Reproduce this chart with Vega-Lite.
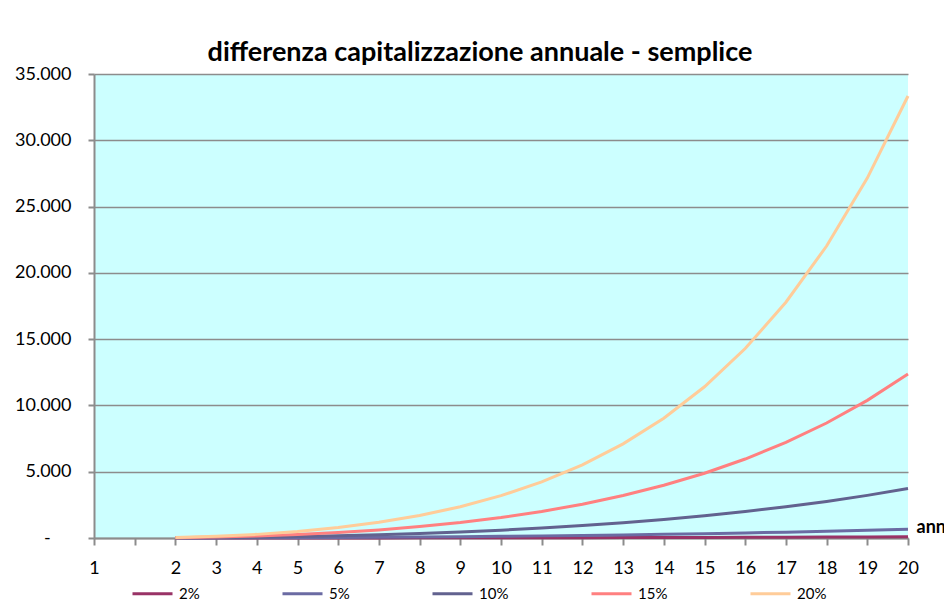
{
  "$schema": "https://vega.github.io/schema/vega-lite/v6.json",
  "width": 814,
  "height": 464,
  "autosize": {"type": "none"},
  "padding": {"left": 94, "top": 74, "right": 36, "bottom": 72},
  "background": "white",
  "title": {
    "text": "differenza capitalizzazione annuale - semplice",
    "font": "Lato",
    "fontSize": 27,
    "fontWeight": "bold",
    "color": "black",
    "anchor": "middle",
    "dx": -21,
    "offset": -2
  },
  "data": {
    "values": [
      {"anno": "2", "serie": "2%", "valore": 0.4}, {"anno": "3", "serie": "2%", "valore": 1.2}, {"anno": "4", "serie": "2%", "valore": 2.4}, {"anno": "5", "serie": "2%", "valore": 4.1}, {"anno": "6", "serie": "2%", "valore": 6.2}, {"anno": "7", "serie": "2%", "valore": 8.7}, {"anno": "8", "serie": "2%", "valore": 11.7}, {"anno": "9", "serie": "2%", "valore": 15.1}, {"anno": "10", "serie": "2%", "valore": 19.0}, {"anno": "11", "serie": "2%", "valore": 23.4}, {"anno": "12", "serie": "2%", "valore": 28.2}, {"anno": "13", "serie": "2%", "valore": 33.6}, {"anno": "14", "serie": "2%", "valore": 39.5}, {"anno": "15", "serie": "2%", "valore": 45.9}, {"anno": "16", "serie": "2%", "valore": 52.8}, {"anno": "17", "serie": "2%", "valore": 60.2}, {"anno": "18", "serie": "2%", "valore": 68.2}, {"anno": "19", "serie": "2%", "valore": 76.8}, {"anno": "20", "serie": "2%", "valore": 85.9},
      {"anno": "2", "serie": "5%", "valore": 2.5}, {"anno": "3", "serie": "5%", "valore": 7.6}, {"anno": "4", "serie": "5%", "valore": 15.5}, {"anno": "5", "serie": "5%", "valore": 26.3}, {"anno": "6", "serie": "5%", "valore": 40.1}, {"anno": "7", "serie": "5%", "valore": 57.1}, {"anno": "8", "serie": "5%", "valore": 77.5}, {"anno": "9", "serie": "5%", "valore": 101.3}, {"anno": "10", "serie": "5%", "valore": 128.9}, {"anno": "11", "serie": "5%", "valore": 160.3}, {"anno": "12", "serie": "5%", "valore": 195.9}, {"anno": "13", "serie": "5%", "valore": 235.6}, {"anno": "14", "serie": "5%", "valore": 279.9}, {"anno": "15", "serie": "5%", "valore": 328.9}, {"anno": "16", "serie": "5%", "valore": 382.9}, {"anno": "17", "serie": "5%", "valore": 442.0}, {"anno": "18", "serie": "5%", "valore": 506.6}, {"anno": "19", "serie": "5%", "valore": 577.0}, {"anno": "20", "serie": "5%", "valore": 653.3},
      {"anno": "2", "serie": "10%", "valore": 10.0}, {"anno": "3", "serie": "10%", "valore": 31.0}, {"anno": "4", "serie": "10%", "valore": 64.1}, {"anno": "5", "serie": "10%", "valore": 110.5}, {"anno": "6", "serie": "10%", "valore": 171.6}, {"anno": "7", "serie": "10%", "valore": 248.7}, {"anno": "8", "serie": "10%", "valore": 343.6}, {"anno": "9", "serie": "10%", "valore": 457.9}, {"anno": "10", "serie": "10%", "valore": 593.7}, {"anno": "11", "serie": "10%", "valore": 753.1}, {"anno": "12", "serie": "10%", "valore": 938.4}, {"anno": "13", "serie": "10%", "valore": 1152.3}, {"anno": "14", "serie": "10%", "valore": 1397.5}, {"anno": "15", "serie": "10%", "valore": 1677.2}, {"anno": "16", "serie": "10%", "valore": 1995.0}, {"anno": "17", "serie": "10%", "valore": 2354.5}, {"anno": "18", "serie": "10%", "valore": 2759.9}, {"anno": "19", "serie": "10%", "valore": 3215.9}, {"anno": "20", "serie": "10%", "valore": 3727.5},
      {"anno": "2", "serie": "15%", "valore": 22.5}, {"anno": "3", "serie": "15%", "valore": 70.9}, {"anno": "4", "serie": "15%", "valore": 149.0}, {"anno": "5", "serie": "15%", "valore": 261.4}, {"anno": "6", "serie": "15%", "valore": 413.1}, {"anno": "7", "serie": "15%", "valore": 610.0}, {"anno": "8", "serie": "15%", "valore": 859.0}, {"anno": "9", "serie": "15%", "valore": 1167.9}, {"anno": "10", "serie": "15%", "valore": 1545.6}, {"anno": "11", "serie": "15%", "valore": 2002.4}, {"anno": "12", "serie": "15%", "valore": 2550.3}, {"anno": "13", "serie": "15%", "valore": 3202.8}, {"anno": "14", "serie": "15%", "valore": 3975.7}, {"anno": "15", "serie": "15%", "valore": 4887.1}, {"anno": "16", "serie": "15%", "valore": 5957.6}, {"anno": "17", "serie": "15%", "valore": 7211.3}, {"anno": "18", "serie": "15%", "valore": 8675.5}, {"anno": "19", "serie": "15%", "valore": 10381.8}, {"anno": "20", "serie": "15%", "valore": 12366.5},
      {"anno": "2", "serie": "20%", "valore": 40.0}, {"anno": "3", "serie": "20%", "valore": 128.0}, {"anno": "4", "serie": "20%", "valore": 273.6}, {"anno": "5", "serie": "20%", "valore": 488.3}, {"anno": "6", "serie": "20%", "valore": 786.0}, {"anno": "7", "serie": "20%", "valore": 1183.2}, {"anno": "8", "serie": "20%", "valore": 1699.8}, {"anno": "9", "serie": "20%", "valore": 2359.8}, {"anno": "10", "serie": "20%", "valore": 3191.7}, {"anno": "11", "serie": "20%", "valore": 4230.1}, {"anno": "12", "serie": "20%", "valore": 5516.1}, {"anno": "13", "serie": "20%", "valore": 7099.3}, {"anno": "14", "serie": "20%", "valore": 9039.2}, {"anno": "15", "serie": "20%", "valore": 11407.0}, {"anno": "16", "serie": "20%", "valore": 14288.4}, {"anno": "17", "serie": "20%", "valore": 17786.1}, {"anno": "18", "serie": "20%", "valore": 22023.3}, {"anno": "19", "serie": "20%", "valore": 27148.0}, {"anno": "20", "serie": "20%", "valore": 33337.6}
    ]
  },
  "mark": {"type": "line", "strokeWidth": 3, "interpolate": "linear"},
  "encoding": {
    "x": {
      "field": "anno",
      "type": "ordinal",
      "scale": {"type": "point", "padding": 0, "domain": ["1", " ", "2", "3", "4", "5", "6", "7", "8", "9", "10", "11", "12", "13", "14", "15", "16", "17", "18", "19", "20"]},
      "axis": {
        "title": "anni",
        "titleFont": "Lato",
        "titleFontSize": 18,
        "titleFontWeight": "bold",
        "titleColor": "black",
        "titleAngle": 0,
        "titleAlign": "left",
        "titleBaseline": "alphabetic",
        "titleX": 822,
        "titleY": -6,
        "labelAngle": 0,
        "labelFont": "Lato",
        "labelFontSize": 18,
        "labelColor": "black",
        "labelPadding": 14,
        "tickSize": 7,
        "tickWidth": 2,
        "tickColor": "#8c8c8c",
        "domainColor": "#8c8c8c",
        "domainWidth": 2,
        "grid": false
      }
    },
    "y": {
      "field": "valore",
      "type": "quantitative",
      "scale": {"domain": [0, 35000], "nice": false},
      "axis": {
        "title": null,
        "values": [0, 5000, 10000, 15000, 20000, 25000, 30000, 35000],
        "labelExpr": "datum.value == 0 ? '-\u2007\u2007\u2060' : replace(format(datum.value, ','), ',', '.')",
        "labelFont": "Lato",
        "labelFontSize": 18,
        "labelColor": "black",
        "labelPadding": 17,
        "tickSize": 6,
        "tickWidth": 2,
        "tickColor": "#8c8c8c",
        "domainColor": "#8c8c8c",
        "domainWidth": 2,
        "grid": true,
        "gridColor": "#8c8c8c",
        "gridWidth": 1.5
      }
    },
    "color": {
      "field": "serie",
      "type": "nominal",
      "scale": {"domain": ["2%", "5%", "10%", "15%", "20%"], "range": ["#993366", "#6B6BA3", "#62628F", "#FF8080", "#FFCC99"]},
      "legend": {
        "title": null,
        "orient": "none",
        "direction": "horizontal",
        "columns": 5,
        "columnPadding": 76,
        "legendX": 37,
        "legendY": 498,
        "symbolType": "stroke",
        "symbolSize": 1600,
        "symbolStrokeWidth": 3,
        "labelFont": "Lato",
        "labelFontSize": 15,
        "labelColor": "black",
        "labelOffset": 5
      }
    }
  },
  "config": {
    "view": {"fill": "#CCFFFF", "stroke": null}
  }
}
